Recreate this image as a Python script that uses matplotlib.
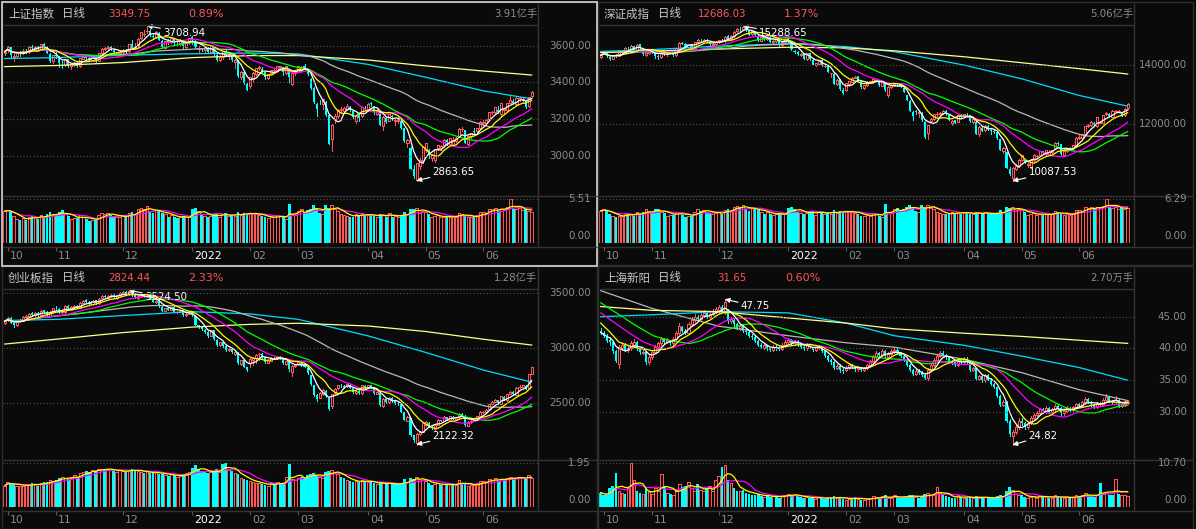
import numpy as np
import pandas as pd
import matplotlib
matplotlib.use("Agg")
import matplotlib.pyplot as plt
from matplotlib.patches import Rectangle

# ======================= DATA =======================
holidays = ["2021-10-01", "2021-10-04", "2021-10-05", "2021-10-06", "2021-10-07",
            "2022-01-03", "2022-01-31", "2022-02-01", "2022-02-02", "2022-02-03", "2022-02-04",
            "2022-04-04", "2022-04-05", "2022-05-02", "2022-05-03", "2022-05-04", "2022-06-03"]

# ---- 上证指数 ----
sh_open = [3560,
 3575, 3593, 3540, 3545, 3565, 3560, 3572, 3568, 3595, 3583, 3595, 3583, 3610, 3595, 3555, 3515,
 3547, 3540, 3500, 3495, 3525, 3490, 3497, 3505, 3490, 3530, 3541, 3532, 3520, 3536, 3518, 3560, 3583, 3588, 3592, 3578, 3555, 3560,
 3564, 3575, 3572, 3610, 3585, 3596, 3640, 3665, 3680, 3678, 3655, 3650, 3670, 3625, 3590, 3625, 3620, 3640, 3617, 3614, 3628, 3595, 3620,
 3650, 3628, 3580, 3585, 3575, 3590, 3568, 3598, 3550, 3520, 3540, 3570, 3555, 3550, 3510, 3520, 3430, 3455, 3390,
 3380, 3420, 3448, 3478, 3475, 3455, 3425, 3450, 3465, 3462, 3482, 3485, 3450, 3470, 3390, 3450,
 3458, 3475, 3490, 3465, 3420, 3370, 3280, 3300, 3280, 3295, 3220, 3090, 3200, 3215, 3250, 3245, 3255, 3265, 3245, 3190, 3220, 3215, 3262,
 3255, 3285, 3270, 3230, 3230, 3160, 3205, 3190, 3218, 3190, 3192, 3190, 3150, 3070, 3040, 2930, 2870, 2945, 2970,
 3030, 3030, 2990, 2975, 3040, 3040, 3060, 3085, 3065, 3060, 3080, 3110, 3145, 3140, 3065, 3105, 3135, 3135, 3150,
 3180, 3180, 3200, 3238, 3240, 3250, 3225, 3250, 3250, 3290, 3300, 3280, 3315, 3305, 3300, 3270, 3325]
sh_high = [3576,
 3597, 3593, 3560, 3566, 3571, 3584, 3580, 3597, 3603, 3600, 3598, 3611, 3615, 3600, 3558, 3550,
 3566, 3545, 3515, 3530, 3525, 3505, 3512, 3510, 3535, 3555, 3547, 3540, 3542, 3540, 3562, 3588, 3595, 3600, 3597, 3580, 3568, 3575,
 3581, 3581, 3610, 3630, 3615, 3640, 3675, 3688, 3708.94, 3690, 3665, 3680, 3675, 3630, 3628, 3635, 3648, 3644, 3625, 3635, 3632, 3622, 3642,
 3652, 3632, 3600, 3590, 3595, 3595, 3600, 3600, 3555, 3550, 3572, 3575, 3560, 3552, 3526, 3522, 3460, 3458, 3400,
 3432, 3455, 3480, 3490, 3485, 3458, 3448, 3468, 3475, 3492, 3492, 3486, 3492, 3472, 3455, 3465,
 3490, 3490, 3500, 3470, 3422, 3375, 3290, 3305, 3312, 3300, 3225, 3172, 3225, 3255, 3265, 3265, 3281, 3270, 3248, 3218, 3225, 3268, 3270,
 3285, 3295, 3272, 3255, 3232, 3215, 3210, 3228, 3220, 3200, 3210, 3192, 3152, 3090, 3045, 2950, 2960, 2990, 3050,
 3070, 3035, 3010, 3038, 3060, 3058, 3090, 3090, 3098, 3100, 3100, 3150, 3155, 3142, 3110, 3125, 3150, 3152, 3188,
 3195, 3198, 3238, 3245, 3265, 3270, 3287, 3260, 3290, 3325, 3310, 3318, 3320, 3320, 3305, 3322, 3352]
sh_low = [3548,
 3568, 3540, 3515, 3535, 3545, 3556, 3558, 3562, 3580, 3575, 3570, 3580, 3590, 3558, 3510, 3508,
 3533, 3485, 3480, 3490, 3485, 3475, 3490, 3485, 3485, 3525, 3527, 3515, 3515, 3510, 3515, 3555, 3575, 3575, 3578, 3555, 3545, 3550,
 3555, 3560, 3565, 3585, 3580, 3590, 3636, 3655, 3670, 3655, 3640, 3640, 3630, 3585, 3585, 3612, 3615, 3612, 3608, 3605, 3590, 3590, 3610,
 3610, 3590, 3565, 3570, 3565, 3560, 3565, 3552, 3518, 3515, 3530, 3550, 3530, 3515, 3480, 3430, 3420, 3390, 3356,
 3370, 3400, 3440, 3470, 3455, 3420, 3418, 3445, 3455, 3455, 3475, 3440, 3448, 3400, 3385, 3440,
 3455, 3465, 3475, 3440, 3365, 3285, 3214, 3280, 3255, 3215, 3062, 3023, 3180, 3205, 3235, 3235, 3248, 3245, 3205, 3180, 3190, 3210, 3248,
 3245, 3270, 3230, 3220, 3165, 3140, 3180, 3188, 3195, 3165, 3180, 3145, 3075, 3050, 2925, 2880, 2863.65, 2930, 2960,
 3020, 2990, 2970, 2965, 3030, 3030, 3050, 3060, 3060, 3055, 3075, 3105, 3135, 3068, 3060, 3095, 3125, 3130, 3145,
 3170, 3172, 3195, 3225, 3235, 3235, 3220, 3230, 3240, 3285, 3280, 3275, 3300, 3290, 3262, 3265, 3318]
sh_close = [3568,
 3592, 3547, 3546, 3562, 3558, 3572, 3568, 3593, 3587, 3594, 3582, 3609, 3597, 3562, 3518, 3547,
 3544, 3505, 3498, 3526, 3491, 3498, 3507, 3492, 3532, 3539, 3533, 3522, 3537, 3520, 3560, 3582, 3589, 3592, 3585, 3564, 3562, 3564,
 3576, 3573, 3607, 3589, 3595, 3637, 3673, 3666, 3681, 3661, 3647, 3675, 3632, 3593, 3625, 3622, 3643, 3618, 3615, 3630, 3597, 3619, 3640,
 3632, 3595, 3586, 3580, 3593, 3567, 3597, 3555, 3521, 3541, 3569, 3558, 3555, 3522, 3524, 3433, 3455, 3394, 3361,
 3429, 3452, 3479, 3485, 3462, 3428, 3446, 3465, 3468, 3490, 3490, 3457, 3489, 3429, 3451, 3462,
 3488, 3484, 3481, 3447, 3372, 3293, 3256, 3296, 3309, 3223, 3064, 3170, 3215, 3251, 3254, 3259, 3271, 3251, 3212, 3214, 3203, 3267, 3253,
 3282, 3283, 3236, 3252, 3167, 3213, 3186, 3225, 3211, 3196, 3195, 3151, 3080, 3087, 2929, 2887, 2958, 2975, 3047,
 3068, 3002, 3004, 3036, 3058, 3054, 3084, 3073, 3094, 3086, 3096, 3146, 3147, 3071, 3107, 3123, 3131, 3149, 3186,
 3182, 3195, 3236, 3241, 3263, 3239, 3285, 3256, 3289, 3305, 3285, 3317, 3315, 3307, 3267, 3320, 3349.75]
sh_vol = [4.0,
 4.1, 3.9, 3.4, 3.0, 2.9, 3.1, 2.9, 3.3, 3.4, 3.2, 3.0, 3.5, 3.3, 3.6, 3.9, 3.5,
 3.4, 3.9, 4.1, 3.6, 3.4, 3.0, 3.1, 3.1, 3.5, 3.3, 3.0, 2.7, 2.9, 2.9, 3.5, 3.8, 3.6, 3.7, 3.5, 3.4, 3.3, 3.3,
 3.4, 3.2, 3.7, 3.9, 3.6, 4.3, 4.4, 4.2, 4.6, 4.0, 3.7, 4.1, 4.0, 3.8, 3.6, 3.3, 3.5, 3.3, 3.1, 3.2, 3.4, 3.3, 3.2,
 4.2, 4.4, 4.0, 3.6, 3.4, 3.3, 3.4, 3.6, 3.7, 3.2, 3.6, 3.7, 3.4, 3.5, 3.4, 3.9, 3.5, 3.8, 3.6,
 3.7, 3.8, 3.6, 3.5, 3.4, 3.2, 3.1, 3.3, 3.2, 3.5, 3.4, 3.2, 3.0, 4.9, 3.6, 3.5,
 4.0, 4.2, 3.8, 4.1, 4.3, 4.75, 4.4, 3.8, 3.6, 4.75, 4.4, 4.7, 4.2, 4.0, 3.6, 3.5, 3.4, 3.3, 3.3, 3.6, 3.5, 3.7, 3.4,
 3.5, 3.6, 3.4, 3.3, 3.6, 3.5, 3.3, 3.7, 3.3, 3.4, 3.3, 3.5, 3.9, 3.6, 4.3, 4.2, 4.4, 3.8, 4.0,
 3.9, 3.6, 3.2, 3.4, 3.5, 3.2, 3.3, 3.2, 3.3, 3.4, 3.3, 3.8, 3.6, 3.4, 3.2, 3.3, 3.2, 3.5, 3.9,
 3.9, 3.7, 4.3, 4.2, 4.4, 4.0, 4.3, 4.3, 4.5, 5.51, 4.3, 4.2, 4.4, 4.1, 4.2, 4.0, 3.91]
sh_ma120 = [3530, 3535, 3548, 3556, 3560, 3555, 3498, 3428, 3354, 3310]
sh_ma250 = [3486, 3492, 3508, 3535, 3546, 3546, 3522, 3490, 3462, 3440]
sh_ticks = [3600, 3400, 3200, 3000]
sh_pct = 0.89

# ---- 深证成指 ----
sz_open = [14250,
 14380, 14420, 14240, 14190, 14320, 14290, 14420, 14430, 14570, 14520, 14610, 14500, 14680, 14530, 14320, 14390,
 14460, 14430, 14270, 14250, 14430, 14340, 14380, 14410, 14320, 14530, 14720, 14700, 14580, 14690, 14570, 14760, 14840, 14800, 14830, 14770, 14660, 14690,
 14740, 14830, 14800, 14950, 14860, 14960, 15110, 15190, 15200, 15240, 15140, 15010, 15120, 14960, 14800, 14910, 14850, 14930, 14760, 14790, 14850, 14640, 14770,
 14880, 14780, 14470, 14420, 14320, 14350, 14180, 14380, 14160, 13970, 14030, 14150, 13960, 13950, 13700, 13690, 13330, 13480, 13150,
 13150, 13340, 13420, 13560, 13600, 13440, 13210, 13310, 13430, 13420, 13470, 13480, 13290, 13380, 12960, 13250,
 13290, 13320, 13330, 13200, 12960, 12780, 12400, 12450, 12360, 12380, 12080, 11700, 12100, 12160, 12330, 12320, 12370, 12440, 12300, 12020, 12120, 12080, 12290,
 12260, 12340, 12290, 12070, 12080, 11660, 11880, 11800, 11930, 11800, 11770, 11730, 11500, 11090, 11050, 10500, 10200, 10500, 10580,
 10780, 10780, 10620, 10560, 10790, 10920, 10960, 11090, 10980, 10980, 11060, 11180, 11350, 11320, 10960, 11090, 11200, 11190, 11300,
 11540, 11540, 11680, 11940, 11960, 12030, 11930, 12050, 12050, 12320, 12350, 12250, 12430, 12430, 12400, 12300, 12540]
sz_high = [14330,
 14440, 14420, 14260, 14320, 14340, 14430, 14470, 14580, 14600, 14640, 14620, 14690, 14690, 14560, 14420, 14470,
 14530, 14460, 14330, 14460, 14440, 14400, 14430, 14440, 14560, 14760, 14760, 14710, 14700, 14700, 14770, 14860, 14870, 14870, 14850, 14780, 14740, 14780,
 14840, 14870, 14960, 14990, 14990, 15120, 15220, 15250, 15288.65, 15260, 15160, 15140, 15130, 14980, 14930, 14940, 14960, 14950, 14830, 14870, 14870, 14790, 14880,
 14900, 14800, 14480, 14440, 14400, 14370, 14390, 14390, 14170, 14060, 14160, 14170, 14000, 13970, 13730, 13720, 13500, 13500, 13200,
 13390, 13450, 13580, 13620, 13620, 13460, 13320, 13440, 13460, 13520, 13510, 13490, 13450, 13400, 13290, 13330,
 13380, 13350, 13380, 13220, 12980, 12800, 12450, 12480, 12440, 12400, 12100, 11980, 12200, 12350, 12400, 12400, 12470, 12460, 12320, 12120, 12150, 12310, 12320,
 12350, 12380, 12300, 12180, 12090, 11920, 11900, 11960, 11950, 11820, 11800, 11750, 11510, 11220, 11060, 10560, 10540, 10650, 10820,
 10970, 10800, 10700, 10820, 10980, 10960, 11100, 11100, 11140, 11120, 11130, 11380, 11400, 11330, 11120, 11170, 11240, 11310, 11550,
 11620, 11680, 11940, 11990, 12090, 12080, 12240, 12100, 12300, 12420, 12370, 12460, 12470, 12480, 12420, 12530, 12700]
sz_low = [14230,
 14350, 14250, 14150, 14170, 14250, 14270, 14390, 14410, 14500, 14500, 14480, 14480, 14530, 14320, 14300, 14360,
 14400, 14230, 14200, 14220, 14320, 14300, 14340, 14300, 14300, 14510, 14680, 14570, 14560, 14560, 14550, 14740, 14780, 14780, 14760, 14650, 14620, 14660,
 14720, 14780, 14770, 14850, 14820, 14920, 15090, 15140, 15170, 15130, 14990, 14980, 14960, 14790, 14780, 14840, 14830, 14750, 14730, 14760, 14630, 14620, 14740,
 14760, 14500, 14380, 14310, 14290, 14170, 14160, 14160, 13970, 13940, 14000, 13940, 13900, 13740, 13580, 13330, 13300, 13150, 13000,
 13120, 13280, 13400, 13530, 13450, 13200, 13180, 13290, 13410, 13400, 13440, 13280, 13280, 13120, 12900, 13220,
 13270, 13270, 13230, 13070, 12800, 12430, 12120, 12350, 12250, 12100, 11520, 11480, 12060, 12130, 12280, 12280, 12350, 12300, 12130, 11980, 12020, 12060, 12230,
 12230, 12280, 12060, 12020, 11660, 11600, 11760, 11780, 11800, 11680, 11700, 11500, 11120, 11020, 10510, 10280, 10087.53, 10450, 10540,
 10750, 10680, 10540, 10520, 10770, 10890, 10940, 10980, 10960, 10950, 11040, 11170, 11300, 10960, 10940, 11060, 11180, 11170, 11280,
 11500, 11520, 11660, 11900, 11940, 11950, 11910, 12020, 12020, 12300, 12250, 12230, 12400, 12390, 12260, 12280, 12510]
sz_close = [14309,
 14415, 14270, 14200, 14300, 14295, 14415, 14434, 14554, 14538, 14606, 14500, 14670, 14545, 14345, 14400, 14451,
 14438, 14274, 14262, 14433, 14351, 14375, 14400, 14326, 14540, 14706, 14705, 14591, 14683, 14583, 14752, 14836, 14811, 14828, 14792, 14681, 14698, 14742,
 14821, 14822, 14936, 14867, 14956, 15101, 15198, 15184, 15247, 15155, 15005, 15117, 14980, 14815, 14911, 14861, 14935, 14764, 14800, 14850, 14655, 14760, 14857,
 14792, 14525, 14430, 14343, 14354, 14185, 14370, 14176, 13991, 14042, 14137, 13967, 13960, 13764, 13704, 13352, 13471, 13169, 13030,
 13370, 13430, 13560, 13590, 13460, 13230, 13300, 13420, 13440, 13500, 13480, 13310, 13430, 13140, 13260, 13300,
 13360, 13300, 13250, 13090, 12820, 12450, 12280, 12400, 12420, 12120, 11550, 11950, 12160, 12330, 12350, 12380, 12450, 12320, 12150, 12100, 12050, 12300, 12250,
 12330, 12320, 12090, 12160, 11680, 11900, 11780, 11940, 11850, 11780, 11740, 11520, 11140, 11190, 10520, 10320, 10520, 10600, 10800,
 10950, 10700, 10670, 10800, 10960, 10930, 11080, 11010, 11120, 11070, 11120, 11360, 11340, 10980, 11100, 11150, 11210, 11290, 11530,
 11560, 11660, 11920, 11960, 12070, 11980, 12220, 12080, 12290, 12370, 12270, 12450, 12440, 12430, 12280, 12515, 12686.03]
sz_vol = [4.6,
 4.8, 4.6, 4.2, 3.8, 3.7, 3.9, 3.8, 4.2, 4.3, 4.1, 3.8, 4.4, 4.2, 4.5, 4.8, 4.4,
 4.3, 4.8, 4.9, 4.5, 4.3, 3.9, 4.0, 4.0, 4.5, 4.4, 4.0, 3.7, 3.9, 3.9, 4.5, 4.8, 4.6, 4.7, 4.5, 4.3, 4.2, 4.3,
 4.4, 4.2, 4.7, 4.9, 4.6, 5.2, 5.3, 5.1, 5.4, 4.9, 4.6, 5.0, 4.9, 4.7, 4.5, 4.2, 4.4, 4.2, 4.0, 4.1, 4.3, 4.2, 4.1,
 5.0, 5.2, 4.8, 4.5, 4.3, 4.2, 4.3, 4.5, 4.6, 4.0, 4.4, 4.5, 4.2, 4.3, 4.2, 4.7, 4.3, 4.6, 4.4,
 4.5, 4.6, 4.4, 4.3, 4.2, 3.9, 3.8, 4.0, 3.9, 4.3, 4.2, 3.9, 3.7, 5.6, 4.4, 4.3,
 4.8, 5.0, 4.6, 4.9, 5.1, 5.5, 5.2, 4.6, 4.4, 5.5, 5.2, 5.5, 5.0, 4.8, 4.4, 4.3, 4.2, 4.1, 4.1, 4.4, 4.3, 4.5, 4.2,
 4.3, 4.4, 4.2, 4.1, 4.4, 4.3, 4.1, 4.5, 4.1, 4.2, 4.1, 4.3, 4.7, 4.4, 5.1, 5.0, 5.2, 4.6, 4.8,
 4.7, 4.4, 4.0, 4.2, 4.3, 4.0, 4.1, 4.0, 4.1, 4.2, 4.1, 4.6, 4.4, 4.2, 4.0, 4.1, 4.0, 4.3, 4.7,
 4.7, 4.5, 5.1, 5.0, 5.2, 4.8, 5.1, 5.1, 5.3, 6.29, 5.1, 5.0, 5.2, 4.9, 5.0, 4.8, 5.06]
sz_ma120 = [14440, 14500, 14620, 14700, 14600, 14430, 13980, 13520, 12960, 12600]
sz_ma250 = [14400, 14450, 14520, 14580, 14560, 14460, 14260, 14060, 13860, 13680]
sz_ticks = [14000, 12000]
sz_pct = 1.37

# ---- 创业板指 ----
cy_open = [3230,
 3255, 3275, 3225, 3205, 3245, 3250, 3282, 3292, 3315, 3298, 3322, 3298, 3342, 3328, 3295, 3328,
 3368, 3358, 3325, 3328, 3382, 3358, 3372, 3382, 3368, 3412, 3432, 3418, 3398, 3432, 3408, 3452, 3472, 3458, 3472, 3482, 3455, 3478,
 3498, 3512, 3488, 3522, 3478, 3458, 3472, 3482, 3468, 3472, 3448, 3418, 3432, 3375, 3338, 3362, 3348, 3372, 3325, 3332, 3342, 3298, 3312,
 3330, 3295, 3205, 3192, 3168, 3148, 3112, 3162, 3075, 3028, 3052, 3018, 2978, 2992, 2950, 2958, 2855, 2892, 2825,
 2860, 2895, 2908, 2942, 2948, 2915, 2868, 2885, 2912, 2908, 2922, 2908, 2855, 2875, 2785, 2838,
 2852, 2868, 2852, 2820, 2750, 2660, 2575, 2550, 2585, 2610, 2550, 2470, 2590, 2632, 2662, 2655, 2652, 2668, 2638, 2595, 2612, 2588, 2655,
 2645, 2662, 2645, 2585, 2595, 2475, 2535, 2508, 2548, 2515, 2495, 2488, 2415, 2340, 2360, 2205, 2140, 2215, 2238,
 2300, 2322, 2285, 2265, 2302, 2345, 2338, 2372, 2345, 2375, 2358, 2372, 2398, 2385, 2295, 2328, 2345, 2362, 2382,
 2418, 2418, 2445, 2492, 2512, 2525, 2495, 2555, 2528, 2585, 2598, 2575, 2642, 2648, 2655, 2640, 2765]
cy_high = [3255,
 3280, 3285, 3235, 3250, 3262, 3290, 3300, 3320, 3325, 3330, 3330, 3350, 3350, 3335, 3338, 3368,
 3380, 3365, 3345, 3390, 3390, 3380, 3390, 3392, 3415, 3440, 3445, 3425, 3440, 3440, 3455, 3480, 3482, 3478, 3490, 3490, 3485, 3508,
 3518, 3520, 3524.5, 3524, 3485, 3478, 3490, 3492, 3485, 3480, 3455, 3438, 3440, 3380, 3365, 3370, 3375, 3378, 3335, 3348, 3348, 3315, 3325,
 3335, 3300, 3212, 3200, 3175, 3155, 3168, 3165, 3080, 3058, 3060, 3025, 2998, 2998, 2972, 2962, 2895, 2898, 2830,
 2905, 2915, 2945, 2958, 2952, 2918, 2885, 2915, 2918, 2925, 2925, 2910, 2885, 2880, 2845, 2858,
 2875, 2872, 2860, 2822, 2752, 2665, 2580, 2598, 2628, 2615, 2555, 2585, 2640, 2668, 2670, 2662, 2678, 2672, 2640, 2615, 2618, 2665, 2662,
 2668, 2668, 2648, 2605, 2598, 2545, 2540, 2555, 2552, 2520, 2505, 2492, 2418, 2378, 2362, 2210, 2225, 2250, 2325,
 2335, 2325, 2292, 2305, 2355, 2350, 2378, 2375, 2385, 2378, 2375, 2405, 2405, 2388, 2335, 2345, 2365, 2385, 2425,
 2430, 2448, 2495, 2518, 2538, 2530, 2565, 2560, 2585, 2610, 2605, 2645, 2660, 2668, 2660, 2765, 2830]
cy_low = [3220,
 3248, 3225, 3195, 3198, 3235, 3245, 3275, 3285, 3292, 3292, 3292, 3292, 3322, 3290, 3288, 3322,
 3350, 3322, 3315, 3322, 3352, 3352, 3365, 3362, 3362, 3405, 3412, 3392, 3392, 3402, 3402, 3445, 3452, 3450, 3465, 3452, 3448, 3472,
 3490, 3482, 3482, 3476, 3452, 3450, 3465, 3462, 3460, 3445, 3415, 3412, 3375, 3332, 3332, 3345, 3342, 3325, 3320, 3328, 3295, 3292, 3305,
 3295, 3205, 3180, 3160, 3140, 3100, 3105, 3072, 3020, 3020, 3012, 2972, 2970, 2952, 2940, 2852, 2850, 2825, 2795,
 2825, 2850, 2862, 2895, 2912, 2862, 2865, 2880, 2900, 2900, 2900, 2852, 2850, 2790, 2742, 2830,
 2845, 2840, 2825, 2765, 2665, 2562, 2520, 2542, 2575, 2555, 2440, 2455, 2585, 2625, 2650, 2640, 2648, 2632, 2592, 2585, 2582, 2585, 2632,
 2640, 2645, 2582, 2580, 2475, 2468, 2502, 2500, 2512, 2492, 2482, 2415, 2345, 2335, 2200, 2150, 2122.32, 2205, 2232,
 2295, 2285, 2265, 2255, 2298, 2332, 2332, 2345, 2340, 2352, 2352, 2368, 2385, 2295, 2290, 2322, 2340, 2358, 2378,
 2412, 2412, 2440, 2488, 2508, 2495, 2490, 2525, 2522, 2580, 2575, 2570, 2638, 2642, 2625, 2635, 2760]
cy_close = [3244,
 3270, 3230, 3210, 3240, 3250, 3280, 3290, 3310, 3300, 3320, 3300, 3340, 3330, 3300, 3330, 3360,
 3360, 3330, 3330, 3380, 3360, 3370, 3380, 3370, 3410, 3430, 3420, 3400, 3430, 3410, 3450, 3470, 3460, 3470, 3480, 3460, 3480, 3500,
 3510, 3490, 3520, 3480, 3460, 3470, 3480, 3470, 3470, 3450, 3420, 3430, 3380, 3340, 3360, 3350, 3370, 3330, 3330, 3340, 3300, 3310, 3320,
 3300, 3210, 3190, 3170, 3150, 3110, 3160, 3080, 3030, 3050, 3020, 2980, 2990, 2960, 2960, 2860, 2890, 2830, 2800,
 2900, 2910, 2940, 2950, 2920, 2870, 2880, 2910, 2910, 2920, 2910, 2860, 2880, 2810, 2840, 2850,
 2870, 2850, 2830, 2770, 2670, 2570, 2540, 2590, 2620, 2560, 2450, 2580, 2630, 2660, 2660, 2650, 2670, 2640, 2600, 2610, 2590, 2660, 2640,
 2660, 2650, 2590, 2600, 2480, 2540, 2510, 2550, 2520, 2500, 2490, 2420, 2350, 2370, 2210, 2160, 2220, 2240, 2320,
 2330, 2290, 2280, 2300, 2350, 2340, 2370, 2350, 2380, 2360, 2370, 2400, 2390, 2300, 2330, 2340, 2360, 2380, 2420,
 2420, 2440, 2490, 2510, 2530, 2500, 2560, 2530, 2580, 2600, 2580, 2640, 2650, 2660, 2630, 2760, 2824.44]
cy_vol = [0.95,
 1.10, 1.05, 1.00, 0.95, 0.92, 0.95, 0.98, 1.00, 1.05, 1.00, 0.95, 1.05, 1.10, 1.12, 1.18, 1.15,
 1.20, 1.30, 1.35, 1.28, 1.25, 1.30, 1.40, 1.35, 1.50, 1.55, 1.60, 1.55, 1.65, 1.60, 1.70, 1.70, 1.65, 1.70, 1.65, 1.60, 1.55, 1.62,
 1.60, 1.55, 1.65, 1.70, 1.62, 1.60, 1.55, 1.50, 1.58, 1.52, 1.50, 1.55, 1.48, 1.45, 1.42, 1.38, 1.45, 1.40, 1.35, 1.38, 1.45, 1.50, 1.55,
 1.75, 1.85, 1.70, 1.60, 1.55, 1.50, 1.55, 1.60, 1.70, 1.55, 1.90, 1.95, 1.65, 1.60, 1.50, 1.45, 1.30, 1.25, 1.20,
 1.15, 1.10, 1.05, 1.08, 1.00, 0.98, 0.95, 1.05, 1.02, 1.10, 1.05, 1.00, 1.35, 1.90, 1.25, 1.20,
 1.30, 1.35, 1.30, 1.40, 1.45, 1.50, 1.40, 1.35, 1.30, 1.55, 1.60, 1.65, 1.50, 1.45, 1.35, 1.30, 1.20, 1.15, 1.10, 1.15, 1.10, 1.20, 1.15,
 1.10, 1.12, 1.05, 1.00, 1.10, 1.05, 1.00, 1.08, 1.00, 1.02, 1.00, 1.05, 1.25, 1.10, 1.30, 1.25, 1.35, 1.15, 1.20,
 1.15, 1.05, 0.98, 1.02, 1.05, 0.98, 1.00, 0.96, 1.00, 1.02, 0.98, 1.20, 1.05, 1.00, 0.95, 0.98, 0.96, 1.05, 1.15,
 1.15, 1.10, 1.25, 1.20, 1.28, 1.15, 1.25, 1.22, 1.30, 1.35, 1.25, 1.28, 1.32, 1.30, 1.25, 1.40, 1.28]
cy_ma120 = [3250, 3260, 3295, 3330, 3310, 3260, 3110, 2960, 2800, 2690]
cy_ma250 = [3036, 3080, 3140, 3190, 3215, 3225, 3200, 3150, 3080, 3027]
cy_ticks = [3500, 3000, 2500]
cy_pct = 2.33

# ---- 上海新阳 ----
xy_open = [42.8,
 42.4, 42.0, 41.3, 41.0, 39.6, 37.5, 40.0, 40.5, 39.8, 40.0, 40.6, 41.0, 40.0, 39.3, 39.4, 37.9,
 38.6, 39.5, 40.1, 40.8, 41.5, 41.0, 41.3, 40.8, 41.5, 42.5, 43.4, 42.8, 42.5, 43.8, 44.5, 45.0, 44.6, 45.2, 45.6, 45.0, 45.4, 45.8,
 46.0, 46.5, 45.6, 46.0, 44.3, 44.5, 43.8, 43.2, 43.6, 42.8, 42.6, 42.0, 41.8, 41.2, 40.6, 40.1, 40.5, 40.0, 39.8, 40.3, 40.1, 39.9, 40.5,
 41.0, 41.3, 40.8, 41.2, 40.6, 40.2, 40.0, 40.6, 40.2, 39.8, 40.1, 40.3, 39.6, 38.8, 38.2, 37.9, 37.0, 37.3, 36.6,
 36.6, 37.0, 37.4, 37.1, 36.7, 37.0, 36.6, 36.9, 37.4, 38.0, 38.6, 39.3, 39.0, 39.6, 38.6, 39.2,
 39.6, 39.8, 39.3, 38.8, 38.2, 37.4, 36.6, 36.0, 36.5, 36.2, 35.8, 35.4, 36.6, 37.4, 38.2, 38.8, 39.3, 39.0, 38.6, 38.0, 37.8, 37.4, 38.2,
 37.9, 38.3, 37.8, 36.6, 36.9, 35.2, 35.6, 35.0, 35.8, 35.1, 34.4, 33.9, 32.5, 31.1, 31.5, 28.6, 26.3, 26.8, 27.6,
 28.6, 28.2, 27.6, 28.3, 29.1, 29.6, 29.8, 30.4, 30.1, 30.6, 30.0, 30.4, 31.0, 30.7, 29.8, 30.2, 30.6, 30.4, 30.8,
 31.2, 31.0, 31.5, 32.1, 31.6, 31.2, 30.8, 31.4, 31.1, 31.9, 32.3, 31.8, 31.5, 31.9, 31.0, 31.2, 31.46]
xy_high = [43.2,
 42.8, 42.3, 41.8, 41.2, 39.8, 40.5, 41.0, 40.8, 40.4, 41.2, 41.5, 41.2, 40.2, 39.8, 39.6, 38.9,
 39.8, 40.5, 41.0, 41.8, 41.7, 41.6, 41.4, 41.8, 42.8, 44.0, 43.6, 43.0, 44.2, 44.9, 45.5, 45.2, 45.6, 46.0, 45.8, 45.7, 46.2, 46.5,
 46.8, 46.9, 47.75, 46.2, 45.0, 44.8, 44.0, 43.9, 43.8, 43.2, 42.9, 42.3, 42.0, 41.4, 40.8, 40.8, 40.6, 40.2, 40.5, 40.5, 40.4, 40.9, 41.3,
 41.6, 41.5, 41.4, 41.3, 40.8, 40.4, 40.8, 40.7, 40.3, 40.3, 40.6, 40.4, 39.7, 39.0, 38.4, 38.0, 37.6, 37.5, 36.9,
 37.3, 37.6, 37.6, 37.3, 37.2, 37.1, 37.1, 37.6, 38.2, 38.9, 39.6, 39.5, 39.9, 39.7, 39.4, 39.9,
 40.1, 40.0, 39.5, 39.0, 38.4, 37.6, 36.8, 36.8, 36.7, 36.4, 36.0, 36.9, 37.7, 38.5, 39.1, 39.6, 39.6, 39.2, 38.8, 38.2, 37.9, 38.5, 38.4,
 38.6, 38.6, 37.9, 37.1, 37.0, 35.9, 35.8, 36.0, 36.0, 35.3, 34.6, 34.0, 32.7, 31.9, 31.7, 28.9, 27.2, 28.0, 29.0,
 29.0, 28.4, 28.5, 29.3, 29.9, 30.1, 30.6, 30.6, 30.9, 30.8, 30.6, 31.3, 31.2, 30.8, 30.4, 30.9, 30.8, 31.0, 31.4,
 31.4, 31.7, 32.4, 32.2, 31.8, 31.3, 31.6, 31.6, 32.2, 32.9, 32.4, 31.9, 32.5, 32.0, 31.4, 31.7, 31.9]
xy_low = [42.2,
 41.8, 41.0, 40.6, 39.3, 37.8, 37.0, 39.8, 39.6, 39.5, 39.8, 40.4, 39.8, 39.2, 39.1, 37.6, 37.6,
 38.4, 39.3, 39.9, 40.6, 40.8, 40.8, 40.6, 40.6, 41.3, 42.3, 42.6, 42.3, 42.3, 43.6, 44.2, 44.3, 44.4, 45.0, 44.8, 44.8, 45.2, 45.6,
 45.6, 45.7, 45.4, 44.0, 44.0, 43.5, 43.0, 42.9, 42.6, 42.3, 41.8, 41.5, 41.0, 40.4, 40.0, 39.9, 39.8, 39.6, 39.6, 39.8, 39.7, 39.7, 40.3,
 40.8, 40.6, 40.6, 40.4, 40.0, 39.8, 39.8, 40.0, 39.6, 39.6, 39.9, 39.4, 38.6, 38.0, 37.6, 36.8, 36.7, 36.3, 36.2,
 36.4, 36.8, 36.9, 36.5, 36.5, 36.4, 36.4, 36.7, 37.2, 37.8, 38.4, 38.8, 38.8, 38.5, 38.3, 39.0,
 39.3, 39.1, 38.6, 38.0, 37.2, 36.4, 35.8, 35.8, 36.0, 35.6, 35.2, 35.1, 36.4, 37.2, 38.0, 38.6, 38.8, 38.4, 37.8, 37.6, 37.2, 37.2, 37.7,
 37.7, 37.6, 36.4, 36.4, 35.0, 35.0, 34.8, 34.8, 35.0, 34.2, 33.7, 32.3, 30.9, 30.9, 28.4, 26.2, 24.82, 26.6, 27.4,
 27.9, 27.3, 27.4, 28.1, 28.9, 29.4, 29.6, 29.9, 29.9, 29.8, 29.8, 30.2, 30.5, 29.6, 29.6, 30.0, 30.2, 30.2, 30.6,
 30.8, 30.8, 31.3, 31.4, 31.0, 30.6, 30.6, 30.9, 30.9, 31.7, 31.6, 31.3, 31.3, 30.8, 30.8, 31.0, 31.3]
xy_close = [42.5,
 42.0, 41.2, 41.0, 39.6, 38.0, 40.2, 40.5, 39.8, 40.0, 40.8, 41.0, 40.0, 39.4, 39.5, 37.9, 38.6,
 39.5, 40.2, 40.8, 41.5, 41.0, 41.3, 40.8, 41.5, 42.5, 43.5, 42.8, 42.5, 43.8, 44.5, 45.0, 44.6, 45.2, 45.6, 45.0, 45.4, 45.8, 46.2,
 46.5, 46.0, 47.3, 44.3, 44.6, 43.8, 43.2, 43.6, 42.8, 42.6, 42.0, 41.8, 41.2, 40.6, 40.2, 40.5, 40.0, 39.8, 40.3, 40.1, 39.9, 40.6, 41.0,
 41.3, 40.8, 41.2, 40.6, 40.2, 40.0, 40.6, 40.2, 39.8, 40.1, 40.3, 39.6, 38.8, 38.2, 37.9, 37.0, 37.3, 36.6, 36.5,
 37.0, 37.4, 37.1, 36.7, 37.0, 36.6, 36.9, 37.4, 38.0, 38.6, 39.3, 39.0, 39.6, 38.8, 39.2, 39.6,
 39.8, 39.3, 38.8, 38.2, 37.4, 36.6, 36.0, 36.5, 36.2, 35.8, 35.4, 36.6, 37.4, 38.2, 38.8, 39.3, 39.0, 38.6, 38.0, 37.8, 37.4, 38.2, 37.9,
 38.3, 37.8, 36.6, 36.9, 35.2, 35.6, 35.0, 35.8, 35.1, 34.4, 33.9, 32.5, 31.1, 31.6, 28.6, 26.5, 26.8, 27.6, 28.6,
 28.2, 27.6, 28.3, 29.1, 29.6, 29.8, 30.4, 30.1, 30.6, 30.0, 30.4, 31.0, 30.7, 29.8, 30.2, 30.6, 30.4, 30.8, 31.2,
 31.0, 31.5, 32.1, 31.6, 31.2, 30.8, 31.4, 31.1, 31.9, 32.3, 31.8, 31.5, 31.9, 31.0, 31.2, 31.46, 31.65]
xy_vol = [3.5,
 3.0, 2.8, 4.5, 5.0, 8.2, 4.0, 3.5, 3.2, 4.5, 10.7, 6.5, 4.0, 3.5, 3.2, 4.8, 3.6,
 3.2, 4.5, 3.8, 8.0, 5.0, 3.5, 3.2, 3.0, 4.2, 5.5, 4.8, 5.2, 6.0, 4.5, 4.0, 5.5, 4.2, 3.8, 4.5, 5.0, 4.0, 6.5,
 7.5, 9.8, 10.2, 6.5, 5.8, 4.5, 4.0, 3.8, 4.2, 3.5, 3.2, 3.0, 2.8, 3.2, 2.6, 2.5, 2.8, 2.4, 2.6, 2.5, 2.3, 2.8, 3.0,
 3.2, 2.8, 3.0, 2.6, 2.4, 2.2, 2.5, 2.3, 2.2, 2.0, 2.4, 2.2, 2.0, 2.3, 2.1, 2.6, 2.2, 2.4, 2.0,
 1.8, 1.9, 2.2, 2.4, 2.0, 1.8, 1.7, 1.9, 2.2, 2.6, 2.4, 2.0, 2.6, 2.8, 2.2, 2.3,
 2.8, 2.5, 2.2, 2.4, 2.6, 3.0, 2.8, 2.4, 2.2, 2.6, 3.2, 3.5, 2.8, 3.0, 4.8, 3.5, 3.0, 2.6, 2.4, 2.2, 2.3, 2.8, 2.4,
 2.3, 2.2, 2.4, 2.2, 2.6, 2.3, 2.2, 2.4, 2.1, 2.3, 2.2, 2.6, 3.0, 2.6, 4.0, 4.8, 4.2, 3.2, 3.0,
 2.8, 2.4, 2.2, 2.5, 2.6, 2.3, 2.8, 2.4, 2.6, 2.2, 2.3, 2.8, 2.4, 2.3, 2.2, 2.4, 2.2, 2.5, 2.8,
 2.6, 3.0, 3.4, 2.8, 2.6, 2.4, 3.0, 5.8, 3.2, 3.5, 2.8, 3.0, 6.8, 3.2, 2.8, 3.0, 2.70]
xy_ma60 = [49.1, 46.3, 43.5, 42.0, 40.9, 40.2, 38.3, 36.2, 33.5, 31.8]
xy_ma120 = [45.0, 45.3, 45.8, 45.6, 44.0, 42.0, 40.5, 38.8, 37.0, 35.0]
xy_ma250 = [46.6, 46.0, 45.8, 44.8, 44.0, 43.1, 42.4, 41.9, 41.3, 40.8]
xy_ma10_head = [44.0, 42.6, 41.0]
xy_ma20_head = [45.6, 44.0, 42.4, 41.0]
xy_ma30_head = [47.2, 45.4, 43.6, 42.0, 41.2]
xy_ticks = [45, 40, 35, 30]
xy_pct = 0.60

# ======================= STYLE / LAYOUT =======================
BG = "#0a0a0a"
RED = "#ff5555"
CYAN = "#00ffff"
GRID = "#505050"
SEP = "#333333"
TXT = "#8c8c8c"
MA_COL = {5: "#ffffff", 10: "#ffff00", 20: "#ff00ff", 30: "#00ff00",
          60: "#b8b8b8", 120: "#00dcff", 250: "#ffff8c"}
CJK = ["Noto Sans CJK SC", "DejaVu Sans"]
MIX = ["DejaVu Sans", "Noto Sans CJK SC"]
FS = 7.4

W, H = 1196, 529
PX0, PXA, PXR = 3, 538, 597
PT, PB = 25, 196
VT, VB = 199, 243
DL = 247
XL = (-0.56, 176.1)

dates = pd.bdate_range("2021-09-30", "2022-06-24")
dates = dates[~dates.isin(pd.to_datetime(holidays))]
n = len(dates)
x = np.arange(n)
month_starts = [i for i in range(1, n) if dates[i].month != dates[i - 1].month]
anchors = [0] + month_starts[1:] + [n - 1]

fig = plt.figure(figsize=(W / 100, H / 100), dpi=100, facecolor=BG)


def px_axes(x0, y0, x1, y1, z=1):
    ax = fig.add_axes([x0 / W, 1 - y1 / H, (x1 - x0) / W, (y1 - y0) / H], zorder=z)
    ax.set_facecolor("none")
    ax.axis("off")
    return ax


ov = px_axes(0, 0, W, H, z=5)
ov.set_xlim(0, W)
ov.set_ylim(H, 0)


def xpix(i, L):
    return L + PX0 + (i - XL[0]) * (PXA - PX0) / (XL[1] - XL[0])


panels = [
    dict(L=0, T=0, name="上证指数", O=sh_open, Hi=sh_high, Lo=sh_low, C=sh_close, V=sh_vol,
         pct=sh_pct, unit="亿手", ref=((3600, 45.7), (3000, 155.7)), ticks=sh_ticks,
         roll=[5, 10, 20, 30, 60], sparse={120: sh_ma120, 250: sh_ma250}, head={},
         px=108, pctx=188),
    dict(L=596, T=0, name="深证成指", O=sz_open, Hi=sz_high, Lo=sz_low, C=sz_close, V=sz_vol,
         pct=sz_pct, unit="亿手", ref=((14000, 64.5), (12000, 124.0)), ticks=sz_ticks,
         roll=[5, 10, 20, 30, 60], sparse={120: sz_ma120, 250: sz_ma250}, head={},
         px=102, pctx=188),
    dict(L=0, T=264, name="创业板指", O=cy_open, Hi=cy_high, Lo=cy_low, C=cy_close, V=cy_vol,
         pct=cy_pct, unit="亿手", ref=((3500, 29.0), (2500, 139.0)), ticks=cy_ticks,
         roll=[5, 10, 20, 30, 60], sparse={120: cy_ma120, 250: cy_ma250}, head={},
         px=108, pctx=188),
    dict(L=596, T=264, name="上海新阳", O=xy_open, Hi=xy_high, Lo=xy_low, C=xy_close, V=xy_vol,
         pct=xy_pct, unit="万手", ref=((45, 52.7), (30, 148.0)), ticks=xy_ticks,
         roll=[5, 10, 20, 30], sparse={60: xy_ma60, 120: xy_ma120, 250: xy_ma250},
         head={10: xy_ma10_head, 20: xy_ma20_head, 30: xy_ma30_head},
         px=121, pctx=189),
]

for p in panels:
    L, T = p["L"], p["T"]
    O = np.array(p["O"], float)
    C = np.array(p["C"], float)
    Hh = np.maximum.reduce([np.array(p["Hi"], float), O, C])
    Lo = np.minimum.reduce([np.array(p["Lo"], float), O, C])
    V = np.array(p["V"], float)
    up = C >= O
    dn = ~up
    top = np.maximum(O, C)
    bot = np.minimum(O, C)

    (v1, y1), (v2, y2) = p["ref"]
    ppu = (y2 - y1) / (v1 - v2)
    ytop = v1 + (y1 - PT) / ppu
    ybot = v1 - (PB - y1) / ppu

    # ---------- price axes ----------
    ax = px_axes(L + PX0, T + PT, L + PXA, T + PB, z=2)
    ax.set_xlim(*XL)
    ax.set_ylim(ybot, ytop)
    ax.vlines(x[up], top[up], Hh[up], color=RED, lw=0.7, antialiased=False, zorder=2)
    ax.vlines(x[up], Lo[up], bot[up], color=RED, lw=0.7, antialiased=False, zorder=2)
    ax.vlines(x[dn], Lo[dn], Hh[dn], color=CYAN, lw=0.7, antialiased=False, zorder=2)
    ax.bar(x[up], (C - O)[up], bottom=O[up], width=0.68, facecolor=BG, edgecolor=RED,
           linewidth=0.55, antialiased=False, zorder=2)
    ax.bar(x[dn], (O - C)[dn], bottom=C[dn], width=0.68, color=CYAN, linewidth=0,
           antialiased=False, zorder=2)
    s = pd.Series(C)
    for per, vals in p["sparse"].items():
        ax.plot(anchors, vals, color=MA_COL[per], lw=0.9, zorder=3)
    for per in sorted(p["roll"], reverse=True):
        ma = s.rolling(per, min_periods=1).mean().to_numpy()
        if per in p["head"]:
            hv = list(p["head"][per]) + [ma[per - 1]]
            hx = np.linspace(0, per - 1, len(hv))
            ax.plot(hx, hv, color=MA_COL[per], lw=0.9, zorder=3)
            ax.plot(x[per - 1:], ma[per - 1:], color=MA_COL[per], lw=0.9, zorder=3)
        else:
            ax.plot(x, ma, color=MA_COL[per], lw=0.9, zorder=3)

    ih = int(np.argmax(Hh))
    il = int(np.argmin(Lo))
    arrow = dict(arrowstyle="-|>", color="white", lw=0.8, mutation_scale=7, shrinkA=0, shrinkB=0)
    ax.annotate(f"{Hh[ih]:.2f}", xy=(ih, Hh[ih]), xytext=(16, -7), textcoords="offset pixels",
                color="white", fontsize=FS, ha="left", va="center", arrowprops=arrow, zorder=6)
    ax.annotate(f"{Lo[il]:.2f}", xy=(il, Lo[il]), xytext=(16, 9), textcoords="offset pixels",
                color="white", fontsize=FS, ha="left", va="center", arrowprops=arrow, zorder=6)

    # ---------- volume axes ----------
    vmax = V.max()
    vx = px_axes(L + PX0, T + VT, L + PXA, T + VB, z=2)
    vx.set_xlim(*XL)
    vx.set_ylim(0, vmax)
    vx.bar(x[up], V[up], width=0.88, facecolor=BG, edgecolor=RED, linewidth=0.6,
           antialiased=False)
    vx.bar(x[dn], V[dn], width=0.88, color=CYAN, linewidth=0, antialiased=False)
    vs = pd.Series(V)
    vx.plot(x, vs.rolling(10, min_periods=1).mean(), color="#ff00ff", lw=0.9)
    vx.plot(x, vs.rolling(5, min_periods=1).mean(), color="#ffff00", lw=0.9)

    # ---------- separators / grid ----------
    ov.hlines(T + 25, L + PX0, L + PXA, colors=SEP, lw=1)
    ov.vlines(L + PXA, T + 3, T + DL, colors=SEP, lw=1)
    ov.hlines(T + PB, L + PX0, L + PXR, colors=SEP, lw=1)
    ov.hlines(T + DL, L + PX0, L + PXR, colors=SEP, lw=1)
    for tv in p["ticks"]:
        yy = T + y1 + (v1 - tv) * ppu
        ov.hlines(yy, L + PX0, L + PXA, colors=GRID, lw=0.8, linestyles=(0, (1, 2)))
        ov.text(L + 591, yy, f"{tv:.2f}", color=TXT, fontsize=FS, ha="right", va="center")
    ov.hlines(T + VT, L + PX0, L + PXA, colors=GRID, lw=0.8, linestyles=(0, (1, 2)))
    ov.text(L + 591, T + VT, f"{vmax:.2f}", color=TXT, fontsize=FS, ha="right", va="center")
    ov.text(L + 591, T + 236, "0.00", color=TXT, fontsize=FS, ha="right", va="center")

    # ---------- date axis ----------
    for i in month_starts:
        xp = xpix(i, L)
        d = dates[i]
        lab = str(d.year) if d.month == 1 else f"{d.month:02d}"
        ov.vlines(xp, T + DL, T + DL + 4, colors="#555555", lw=0.8)
        ov.text(xp + 2, T + 256, lab, color="white" if d.month == 1 else TXT,
                fontsize=FS + 0.4, ha="left", va="center")

    # ---------- title row ----------
    ov.text(L + 8, T + 14, p["name"], color="#c8c8c8", fontsize=8.3, family=CJK,
            ha="left", va="center")
    ov.text(L + 62, T + 14, "日线", color="#c8c8c8", fontsize=8.3, family=CJK,
            ha="left", va="center")
    ov.text(L + p["px"], T + 14, f"{C[-1]:.2f}", color=RED, fontsize=FS, ha="left", va="center")
    ov.text(L + p["pctx"], T + 14, f"{p['pct']:.2f}%", color=RED, fontsize=FS + 0.6,
            ha="left", va="center")
    ov.text(L + 537, T + 14, f"{V[-1]:.2f}{p['unit']}", color=TXT, fontsize=FS, family=MIX,
            ha="right", va="center")

    # panel frame
    ov.add_patch(Rectangle((L + 1.5, T + 1.5), 595, 263, fill=False, ec="#2e2e2e", lw=1))

# selected panel frame
ov.add_patch(Rectangle((2, 2), 594.5, 263.5, fill=False, ec="#c8c8c8", lw=1.3))

fig.savefig("out.png", dpi=100, facecolor=BG)
